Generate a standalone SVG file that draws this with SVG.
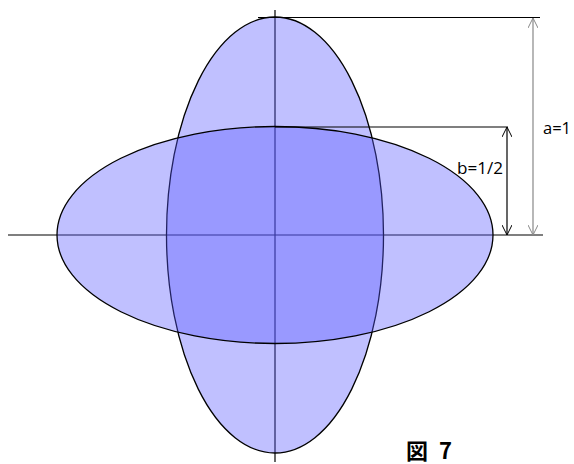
<svg xmlns="http://www.w3.org/2000/svg" width="574" height="464" viewBox="0 0 574 464">
<style>
.axis{stroke:#000;stroke-width:1.2;fill:none}
.ell{fill:rgb(90,90,255);fill-opacity:0.38;stroke:#000;stroke-width:1.3}
.dim{stroke:#000;stroke-width:1.2;fill:none}
.lbl{font-family:"Open Sans","Liberation Sans",Arial,sans-serif;font-size:16px;fill:#000}
</style>
<defs>
<marker id="ah" viewBox="0 0 10 10" refX="10" refY="5" markerWidth="10" markerHeight="10" markerUnits="userSpaceOnUse" orient="auto-start-reverse">
<path d="M0,0 L10,5 L0,10" fill="none" stroke="context-stroke" stroke-width="1"/>
</marker>
</defs>
<g id="connectors">
<line class="axis" x1="8" y1="235" x2="543" y2="235"/>
<line class="axis" x1="275" y1="10" x2="275" y2="462"/>
</g>
<g id="ellipse-vertical"><ellipse class="ell" cx="275" cy="235" rx="108.5" ry="218"/></g>
<g id="ellipse-horizontal"><ellipse class="ell" cx="275" cy="235" rx="218" ry="108.5"/></g>
<g id="dimensions">
<line class="dim" x1="258" y1="17.5" x2="540" y2="17.5"/>
<line class="dim" x1="275" y1="127" x2="508" y2="127"/>
<line x1="533" y1="18" x2="533" y2="235" stroke="#888" stroke-width="1.2" marker-start="url(#ah)" marker-end="url(#ah)"/>
<line x1="507" y1="127" x2="507" y2="235" stroke="#000" stroke-width="1.2" marker-start="url(#ah)" marker-end="url(#ah)"/>
</g>
<g id="labels">
<text class="lbl" x="543" y="134" textLength="28" lengthAdjust="spacingAndGlyphs">a=1</text>
<text class="lbl" x="457" y="174" textLength="46" lengthAdjust="spacingAndGlyphs">b=1/2</text>
<text x="406" y="459" font-family="'Noto Sans CJK JP','Noto Sans',sans-serif" font-size="22" font-weight="bold" textLength="46">図 7</text>
</g>
</svg>
